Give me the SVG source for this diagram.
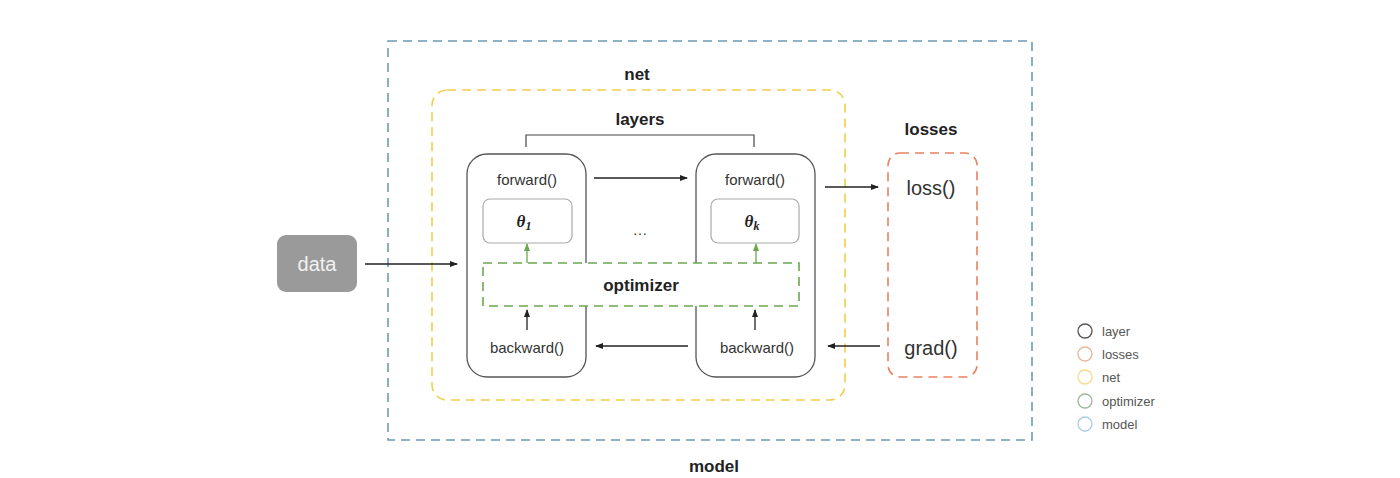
<svg xmlns="http://www.w3.org/2000/svg" width="1400" height="478" viewBox="0 0 1400 478">
<defs>
<marker id="ah" markerWidth="8" markerHeight="8" refX="7" refY="4" orient="auto" markerUnits="userSpaceOnUse"><path d="M0,1 L8,4 L0,7 z" fill="#222"/></marker>
<marker id="ahg" markerWidth="8" markerHeight="8" refX="7" refY="4" orient="auto" markerUnits="userSpaceOnUse"><path d="M0,1 L8,4 L0,7 z" fill="#6aa84f"/></marker>
<style>
text{font-family:"Liberation Sans","Open Sans",Arial,sans-serif;fill:#333}
.lbl{font-size:17px;font-weight:bold;text-anchor:middle;fill:#222}
.fn{font-size:15px;text-anchor:middle}
.big{font-size:20px;text-anchor:middle}
.leg{font-size:13px;fill:#555}
.dt{font-size:20px;text-anchor:middle;fill:#f2f2f2}
.conn{stroke:#222;stroke-width:1.3;fill:none;marker-end:url(#ah)}
.gconn{stroke:#6aa84f;stroke-width:1.3;fill:none;marker-end:url(#ahg)}
.th{font-family:"Liberation Serif","DejaVu Serif",serif;font-style:italic;font-weight:bold;font-size:17px;text-anchor:middle;fill:#222}
</style>
</defs>
<rect width="1400" height="478" fill="#fff"/>
<g id="model">
<rect x="388" y="41" width="644" height="399" fill="none" stroke="#6b9bb3" stroke-width="1.6" stroke-dasharray="9,6"/>
<text class="lbl" x="714" y="472">model</text>
</g>
<g id="net">
<rect x="432" y="90" width="413" height="310" rx="15" fill="none" stroke="#f2cd4a" stroke-width="1.6" stroke-dasharray="9,6"/>
<text class="lbl" x="637" y="80">net</text>
</g>
<g id="layers">
<path d="M526,147 V135 H754 V147" fill="none" stroke="#444" stroke-width="1.2"/>
<text class="lbl" x="640" y="125">layers</text>
</g>
<g id="layer1">
<rect x="467" y="154" width="119" height="223" rx="20" fill="#fff" stroke="#555" stroke-width="1.3"/>
<text class="fn" x="527" y="185">forward()</text>
<text class="fn" x="527" y="353">backward()</text>
</g>
<g id="theta1">
<rect x="483" y="199" width="89" height="44" rx="7" fill="#fff" stroke="#aaa" stroke-width="1.2"/>
<text class="th" x="524" y="227">θ<tspan font-size="12" dy="3">1</tspan></text>
</g>
<g id="layerk">
<rect x="696" y="154" width="119" height="223" rx="20" fill="#fff" stroke="#555" stroke-width="1.3"/>
<text class="fn" x="755" y="185">forward()</text>
<text class="fn" x="757" y="353">backward()</text>
</g>
<g id="thetak">
<rect x="711" y="199" width="88" height="44" rx="7" fill="#fff" stroke="#aaa" stroke-width="1.2"/>
<text class="th" x="752" y="227">θ<tspan font-size="12" dy="3">k</tspan></text>
</g>
<text x="640" y="235" font-size="15" text-anchor="middle" fill="#444">…</text>
<g id="optimizer">
<rect x="483" y="263" width="316" height="43" fill="#fff" stroke="#6aa84f" stroke-width="1.6" stroke-dasharray="9,6"/>
<text class="lbl" x="641" y="291">optimizer</text>
</g>
<g id="losses">
<rect x="888" y="153" width="89" height="224" rx="12" fill="none" stroke="#e8825f" stroke-width="1.6" stroke-dasharray="9,6"/>
<text class="lbl" x="931" y="135">losses</text>
<text class="big" x="931" y="195">loss()</text>
<text class="big" x="931" y="355">grad()</text>
</g>
<g id="data">
<rect x="277" y="235" width="80" height="57" rx="9" fill="#9a9a9a"/>
<text class="dt" x="317" y="271">data</text>
</g>
<g id="connectors">
<line class="conn" x1="365" y1="264" x2="457" y2="264"/>
<line class="conn" x1="594" y1="178" x2="687" y2="178"/>
<line class="conn" x1="825" y1="187" x2="878" y2="187"/>
<line class="conn" x1="880" y1="346" x2="828" y2="346"/>
<line class="conn" x1="688" y1="346" x2="596" y2="346"/>
<line class="gconn" x1="527" y1="263" x2="527" y2="244"/>
<line class="gconn" x1="756" y1="263" x2="756" y2="244"/>
<line class="conn" x1="527" y1="330" x2="527" y2="310"/>
<line class="conn" x1="755" y1="330" x2="755" y2="310"/>
</g>
<g id="legend">
<circle cx="1085" cy="331" r="7" fill="none" stroke="#555" stroke-width="1.3"/>
<text class="leg" x="1102" y="336">layer</text>
<circle cx="1085" cy="354" r="7" fill="none" stroke="#e8b89a" stroke-width="1.3"/>
<text class="leg" x="1102" y="359">losses</text>
<circle cx="1085" cy="377" r="7" fill="none" stroke="#f3dc8c" stroke-width="1.3"/>
<text class="leg" x="1102" y="382">net</text>
<circle cx="1085" cy="401" r="7" fill="none" stroke="#9cb89a" stroke-width="1.3"/>
<text class="leg" x="1102" y="406">optimizer</text>
<circle cx="1085" cy="424" r="7" fill="none" stroke="#a8cfe0" stroke-width="1.3"/>
<text class="leg" x="1102" y="429">model</text>
</g>
</svg>
